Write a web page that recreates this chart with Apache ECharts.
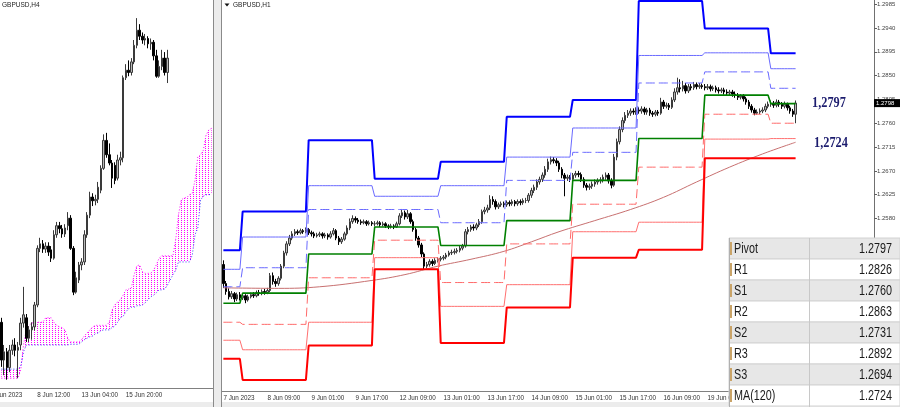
<!DOCTYPE html>
<html><head><meta charset="utf-8">
<script src="https://cdn.jsdelivr.net/npm/echarts@6/dist/echarts.min.js"></script>
<style>html,body{margin:0;padding:0;background:#fff;}#c{width:900px;height:407px;}</style>
</head><body><div id="c"></div>
<script>
// ---------- H1 chart data (GBPUSD,H1) ----------
const h1DayNames = ['7 Jun','8 Jun','9 Jun','12 Jun','13 Jun','14 Jun','15 Jun','16 Jun','19 Jun','20 Jun','21 Jun'];
// [open, close, low, high] per hour from 7 Jun 17:00
const h1Ohlc = [
[1.2493,1.2457,1.2449,1.2501],[1.2457,1.2442,1.2436,1.2462],[1.2442,1.2432,1.2427,1.2448],[1.2432,1.2438,1.2428,1.2443],
[1.2438,1.2428,1.2422,1.2441],[1.2428,1.2436,1.2424,1.2440],[1.2436,1.2430,1.2425,1.2441],[1.2430,1.2434,1.2426,1.2439],
[1.2434,1.2426,1.2420,1.2437],[1.2426,1.2432,1.2423,1.2436],[1.2432,1.2436,1.2429,1.2440],[1.2436,1.2434,1.2430,1.2441],
[1.2434,1.2440,1.2431,1.2444],[1.2440,1.2438,1.2434,1.2445],[1.2438,1.2442,1.2435,1.2446],[1.2442,1.2440,1.2436,1.2447],
[1.2440,1.2444,1.2437,1.2449],[1.2444,1.2472,1.2441,1.2477],[1.2472,1.2461,1.2455,1.2478],[1.2461,1.2457,1.2451,1.2466],
[1.2457,1.2467,1.2453,1.2471],[1.2467,1.2490,1.2463,1.2494],[1.2490,1.2515,1.2486,1.2519],[1.2515,1.2532,1.2510,1.2537],
[1.2532,1.2543,1.2528,1.2549],[1.2543,1.2551,1.2539,1.2556],[1.2551,1.2555,1.2547,1.2560],[1.2555,1.2553,1.2549,1.2559],
[1.2553,1.2557,1.2550,1.2561],[1.2557,1.2555,1.2551,1.2560],[1.2555,1.2559,1.2552,1.2563],[1.2559,1.2553,1.2549,1.2562],
[1.2553,1.2551,1.2546,1.2557],[1.2551,1.2547,1.2543,1.2555],[1.2547,1.2549,1.2544,1.2553],[1.2549,1.2551,1.2545,1.2555],
[1.2551,1.2547,1.2542,1.2554],[1.2547,1.2549,1.2543,1.2553],[1.2549,1.2545,1.2540,1.2552],[1.2545,1.2551,1.2542,1.2556],
[1.2551,1.2557,1.2548,1.2562],[1.2557,1.2543,1.2539,1.2560],[1.2543,1.2536,1.2530,1.2547],[1.2536,1.2541,1.2532,1.2545],
[1.2541,1.2551,1.2538,1.2555],[1.2551,1.2562,1.2548,1.2567],[1.2562,1.2574,1.2558,1.2580],[1.2574,1.2580,1.2570,1.2586],
[1.2580,1.2577,1.2572,1.2584],[1.2577,1.2574,1.2570,1.2581],[1.2574,1.2572,1.2568,1.2578],[1.2572,1.2574,1.2569,1.2578],
[1.2574,1.2570,1.2566,1.2577],[1.2570,1.2572,1.2567,1.2576],[1.2572,1.2570,1.2566,1.2575],[1.2570,1.2570,1.2565,1.2575],
[1.2570,1.2572,1.2567,1.2576],[1.2572,1.2568,1.2564,1.2575],[1.2568,1.2570,1.2565,1.2574],[1.2570,1.2566,1.2562,1.2573],
[1.2566,1.2564,1.2560,1.2569],[1.2564,1.2566,1.2561,1.2570],[1.2566,1.2564,1.2560,1.2569],[1.2564,1.2570,1.2562,1.2574],
[1.2570,1.2585,1.2567,1.2590],[1.2585,1.2591,1.2581,1.2598],[1.2591,1.2583,1.2578,1.2595],[1.2583,1.2589,1.2579,1.2596],
[1.2589,1.2574,1.2570,1.2592],[1.2574,1.2559,1.2555,1.2578],[1.2559,1.2543,1.2538,1.2563],[1.2543,1.2530,1.2525,1.2547],
[1.2530,1.2513,1.2507,1.2534],[1.2513,1.2490,1.2484,1.2516],[1.2490,1.2493,1.2486,1.2498],[1.2493,1.2499,1.2489,1.2503],
[1.2499,1.2495,1.2490,1.2503],[1.2495,1.2501,1.2492,1.2505],[1.2501,1.2503,1.2497,1.2507],[1.2503,1.2505,1.2499,1.2509],
[1.2505,1.2507,1.2501,1.2511],[1.2507,1.2511,1.2503,1.2515],[1.2511,1.2515,1.2508,1.2519],[1.2515,1.2516,1.2511,1.2521],
[1.2516,1.2518,1.2512,1.2523],[1.2518,1.2520,1.2514,1.2524],[1.2520,1.2524,1.2516,1.2528],[1.2524,1.2528,1.2520,1.2532],
[1.2528,1.2555,1.2525,1.2560],[1.2555,1.2559,1.2550,1.2564],[1.2559,1.2564,1.2555,1.2568],[1.2564,1.2562,1.2557,1.2569],
[1.2562,1.2568,1.2558,1.2572],[1.2568,1.2574,1.2564,1.2579],[1.2574,1.2593,1.2570,1.2597],[1.2593,1.2596,1.2588,1.2602],
[1.2596,1.2600,1.2591,1.2606],[1.2600,1.2616,1.2596,1.2624],[1.2616,1.2612,1.2606,1.2622],[1.2612,1.2602,1.2597,1.2616],
[1.2602,1.2606,1.2598,1.2610],[1.2606,1.2608,1.2602,1.2612],[1.2608,1.2606,1.2601,1.2612],[1.2606,1.2610,1.2602,1.2614],
[1.2610,1.2608,1.2603,1.2614],[1.2608,1.2612,1.2604,1.2616],[1.2612,1.2608,1.2603,1.2615],[1.2608,1.2612,1.2604,1.2616],
[1.2612,1.2610,1.2605,1.2616],[1.2610,1.2614,1.2606,1.2618],[1.2614,1.2614,1.2609,1.2619],[1.2614,1.2624,1.2610,1.2628],
[1.2624,1.2633,1.2619,1.2638],[1.2633,1.2639,1.2628,1.2644],[1.2639,1.2649,1.2634,1.2654],[1.2649,1.2654,1.2644,1.2659],
[1.2654,1.2662,1.2649,1.2667],[1.2662,1.2673,1.2657,1.2679],[1.2673,1.2687,1.2668,1.2693],[1.2687,1.2691,1.2682,1.2697],
[1.2691,1.2689,1.2684,1.2696],[1.2689,1.2685,1.2679,1.2694],[1.2685,1.2673,1.2668,1.2689],[1.2673,1.2662,1.2656,1.2677],
[1.2662,1.2656,1.2622,1.2666],[1.2656,1.2658,1.2651,1.2663],[1.2658,1.2654,1.2649,1.2662],[1.2654,1.2662,1.2650,1.2666],
[1.2662,1.2665,1.2657,1.2670],[1.2665,1.2663,1.2658,1.2670],[1.2663,1.2654,1.2649,1.2667],[1.2654,1.2643,1.2638,1.2658],
[1.2643,1.2639,1.2633,1.2647],[1.2639,1.2641,1.2634,1.2646],[1.2641,1.2645,1.2636,1.2650],[1.2645,1.2649,1.2640,1.2654],
[1.2649,1.2651,1.2644,1.2656],[1.2651,1.2653,1.2646,1.2658],[1.2653,1.2658,1.2648,1.2663],[1.2658,1.2662,1.2653,1.2667],
[1.2662,1.2651,1.2646,1.2666],[1.2651,1.2643,1.2637,1.2656],[1.2643,1.2696,1.2640,1.2702],[1.2696,1.2725,1.2690,1.2731],
[1.2725,1.2748,1.2720,1.2754],[1.2748,1.2765,1.2743,1.2771],[1.2765,1.2775,1.2760,1.2781],[1.2775,1.2779,1.2770,1.2785],
[1.2779,1.2783,1.2774,1.2788],[1.2783,1.2781,1.2776,1.2788],[1.2781,1.2785,1.2776,1.2790],[1.2785,1.2783,1.2778,1.2790],
[1.2783,1.2787,1.2778,1.2792],[1.2787,1.2781,1.2776,1.2791],[1.2781,1.2785,1.2776,1.2789],[1.2785,1.2779,1.2774,1.2789],
[1.2779,1.2777,1.2772,1.2783],[1.2777,1.2781,1.2773,1.2785],[1.2781,1.2779,1.2774,1.2785],[1.2779,1.2800,1.2776,1.2808],
[1.2800,1.2792,1.2787,1.2804],[1.2792,1.2794,1.2788,1.2799],[1.2794,1.2790,1.2785,1.2798],[1.2790,1.2804,1.2787,1.2809],
[1.2804,1.2819,1.2800,1.2826],[1.2819,1.2827,1.2814,1.2846],[1.2827,1.2825,1.2818,1.2843],[1.2825,1.2831,1.2820,1.2840],
[1.2831,1.2821,1.2816,1.2836],[1.2821,1.2829,1.2817,1.2834],[1.2829,1.2827,1.2822,1.2834],[1.2827,1.2833,1.2823,1.2838],
[1.2833,1.2829,1.2824,1.2837],[1.2829,1.2831,1.2825,1.2836],[1.2831,1.2829,1.2825,1.2835],[1.2829,1.2827,1.2822,1.2834],
[1.2827,1.2829,1.2823,1.2834],[1.2829,1.2825,1.2820,1.2833],[1.2825,1.2827,1.2821,1.2831],[1.2827,1.2823,1.2818,1.2831],
[1.2823,1.2821,1.2816,1.2828],[1.2821,1.2823,1.2817,1.2827],[1.2823,1.2819,1.2814,1.2827],[1.2819,1.2817,1.2812,1.2824],
[1.2817,1.2819,1.2813,1.2823],[1.2819,1.2815,1.2810,1.2823],[1.2815,1.2813,1.2808,1.2820],[1.2813,1.2809,1.2804,1.2817],
[1.2809,1.2811,1.2805,1.2815],[1.2811,1.2806,1.2801,1.2815],[1.2806,1.2800,1.2795,1.2810],[1.2800,1.2792,1.2787,1.2804],
[1.2792,1.2785,1.2780,1.2796],[1.2785,1.2779,1.2775,1.2789],[1.2779,1.2781,1.2776,1.2786],[1.2781,1.2783,1.2777,1.2788],
[1.2783,1.2785,1.2779,1.2790],[1.2785,1.2792,1.2781,1.2797],[1.2792,1.2796,1.2788,1.2801],[1.2796,1.2798,1.2791,1.2803],
[1.2798,1.2794,1.2789,1.2802],[1.2794,1.2800,1.2790,1.2805],[1.2800,1.2796,1.2791,1.2804],[1.2796,1.2792,1.2787,1.2800],
[1.2792,1.2796,1.2788,1.2801],[1.2796,1.2789,1.2784,1.2799],[1.2789,1.2783,1.2778,1.2793],[1.2783,1.2777,1.2772,1.2787],
[1.2777,1.2798,1.2760,1.2803]
];
// daily pivot levels (7,8,9,12,13,14,15,16,19,20 Jun)
const pivR3 = [1.2520,1.2593,1.2728,1.2655,1.2687,1.2772,1.2804,1.2991,1.2939,1.2892];
const pivR2 = [1.2484,1.2545,1.2642,1.2622,1.2642,1.2696,1.2751,1.2888,1.2893,1.2863];
const pivR1 = [1.2451,1.2487,1.2597,1.2597,1.2572,1.2652,1.2705,1.2836,1.2857,1.2826];
const pivP  = [1.2420,1.2439,1.2513,1.2564,1.2529,1.2576,1.2652,1.2731,1.2813,1.2797];
const pivS1 = [1.2384,1.2380,1.2468,1.2539,1.2459,1.2532,1.2607,1.2677,1.2777,1.2760];
const pivS2 = [1.2350,1.2332,1.2384,1.2506,1.2414,1.2455,1.2555,1.2573,1.2730,1.2731];
const pivS3 = [1.2315,1.2275,1.2340,1.2484,1.2345,1.2412,1.2506,1.2521,1.2694,1.2694];
// MA(120) readings at bar indices
const maIdx = [0,20,35,54,66,78,90,102,112,122,135,148,160,172,184,196,208];
const maVal = [1.2449,1.2448,1.2451,1.2463,1.2474,1.2490,1.2503,1.2518,1.2536,1.2555,1.2576,1.2597,1.2620,1.2649,1.2677,1.2702,1.2724];
// price scale tick labels
const h1Ticks = [1.2985,1.2940,1.2895,1.2850,1.2805,1.2760,1.2715,1.2670,1.2625,1.2580,1.2535,1.2490,1.2445,1.2400,1.2355,1.2310,1.2265];
const lastPrice = 1.2798;

// ---------- H4 chart data (GBPUSD,H4) ----------
const h4DayNames = ['6 Jun','7 Jun','8 Jun','9 Jun','12 Jun','13 Jun','14 Jun','15 Jun','16 Jun','19 Jun','20 Jun','21 Jun','22 Jun','23 Jun'];
const h4Ohlc = [
[1.2445,1.2395,1.2386,1.2451],[1.2395,1.2406,1.2375,1.2415],[1.2406,1.2385,1.2369,1.2411],[1.2385,1.2408,1.2379,1.2415],
[1.2408,1.2415,1.2402,1.2422],[1.2415,1.2408,1.2400,1.2424],[1.2408,1.2412,1.2371,1.2419],[1.2415,1.2444,1.2408,1.2451],
[1.2444,1.2455,1.2438,1.2492],[1.2451,1.2424,1.2419,1.2456],[1.2424,1.2435,1.2419,1.2440],[1.2435,1.2439,1.2422,1.2445],
[1.2439,1.2468,1.2434,1.2472],
[1.2468,1.2543,1.2465,1.2547],[1.2543,1.2549,1.2538,1.2557],[1.2549,1.2542,1.2537,1.2554],[1.2542,1.2546,1.2537,1.2551],
[1.2546,1.2538,1.2533,1.2551],[1.2541,1.2530,1.2525,1.2546],[1.2530,1.2561,1.2528,1.2567],[1.2561,1.2573,1.2557,1.2578],
[1.2573,1.2569,1.2563,1.2578],[1.2569,1.2562,1.2557,1.2574],[1.2562,1.2570,1.2558,1.2575],[1.2573,1.2583,1.2567,1.2591],
[1.2583,1.2543,1.2541,1.2587],
[1.2543,1.2485,1.2481,1.2546],[1.2485,1.2504,1.2483,1.2512],[1.2501,1.2521,1.2497,1.2525],[1.2521,1.2525,1.2514,1.2530],
[1.2525,1.2561,1.2521,1.2567],[1.2561,1.2587,1.2557,1.2591],[1.2587,1.2611,1.2583,1.2618],[1.2611,1.2606,1.2599,1.2616],
[1.2606,1.2608,1.2600,1.2614],[1.2608,1.2624,1.2603,1.2631],[1.2620,1.2649,1.2616,1.2653],[1.2649,1.2686,1.2647,1.2694],
[1.2686,1.2667,1.2663,1.2696],[1.2667,1.2656,1.2653,1.2682],[1.2656,1.2636,1.2623,1.2660],[1.2653,1.2633,1.2628,1.2657],
[1.2636,1.2660,1.2633,1.2667],[1.2660,1.2663,1.2653,1.2671],
[1.2663,1.2769,1.2657,1.2772],[1.2769,1.2779,1.2766,1.2787],[1.2779,1.2776,1.2771,1.2792],[1.2776,1.2790,1.2772,1.2795],
[1.2790,1.2812,1.2787,1.2819],[1.2812,1.2832,1.2808,1.2848],[1.2832,1.2824,1.2819,1.2840],[1.2824,1.2819,1.2814,1.2829],
[1.2819,1.2821,1.2812,1.2827],[1.2821,1.2814,1.2808,1.2824],[1.2814,1.2816,1.2806,1.2821],[1.2816,1.2798,1.2792,1.2819],
[1.2798,1.2771,1.2769,1.2806],[1.2771,1.2784,1.2769,1.2792],[1.2784,1.2795,1.2779,1.2806],[1.2795,1.2776,1.2772,1.2803],
[1.2776,1.2795,1.2762,1.2806]
];
// Ichimoku cloud edges (shifted forward), one value per H4 slot
const kumoA = [1.2371,1.2371,1.2371,1.2371,1.2371,1.2371,1.2371,
 1.2382,1.2415,1.2435,1.2441,1.2444,
 1.2445,1.2445,1.2445,1.2445,
 1.2451,1.2451,1.2451,
 1.2445,1.2441,1.2439,1.2438,1.2435,1.2424,
 1.2419,1.2419,1.2419,1.2419,
 1.2422,1.2427,1.2431,1.2435,1.2439,
 1.2441,1.2441,1.2441,1.2441,1.2441,
 1.2445,1.2461,1.2468,1.2472,1.2475,1.2481,1.2488,1.2489,1.2491,
 1.2508,1.2520,1.2521,1.2512,
 1.2510,1.2510,1.2510,
 1.2514,1.2521,1.2530,
 1.2533,1.2533,1.2533,1.2533,1.2533,
 1.2554,1.2587,1.2607,1.2610,1.2610,1.2614,1.2616,1.2633,1.2664,1.2667,1.2673,1.2693,1.2700,1.2702];
const kumoB = [1.2383,1.2383,1.2383,1.2383,1.2383,1.2383,1.2383,
 1.2387,1.2406,
 1.2415,1.2415,1.2415,1.2415,1.2415,1.2415,1.2415,1.2415,1.2415,1.2415,1.2415,1.2415,1.2415,1.2415,1.2415,1.2415,
 1.2416,1.2416,1.2416,1.2416,
 1.2419,1.2422,1.2424,1.2426,1.2427,1.2430,1.2431,1.2434,
 1.2435,1.2435,1.2435,
 1.2438,1.2440,1.2445,1.2451,1.2453,1.2459,1.2463,
 1.2465,1.2465,1.2467,1.2467,1.2468,1.2471,1.2475,1.2479,1.2481,1.2484,
 1.2488,1.2488,1.2489,1.2494,1.2501,1.2508,1.2514,
 1.2525,1.2525,1.2525,1.2525,1.2525,
 1.2534,1.2561,1.2570,1.2607,1.2612,1.2614,1.2614,1.2615];

// ---------- Table ----------
const tableNames  = ['Pivot','R1','S1','R2','S2','R3','S3','MA(120)'];
const tableValues = ['1.2797','1.2826','1.2760','1.2863','1.2731','1.2892','1.2694','1.2724'];
const noteLabels = ['1,2797','1,2724'];

// ---------- build ----------
const H1_SLOTS = 237, H4_SLOTS = kumoA.length;
const h1Cats = [];
for (let i = 0; i < H1_SLOTS; i++) {
  const t = 17 + i, d = Math.floor(t / 24), h = t % 24;
  h1Cats.push(i === 0 ? '7 Jun 2023' : h1DayNames[d] + ' ' + String(h).padStart(2, '0') + ':00');
}
const h4Cats = [];
for (let j = 0; j < H4_SLOTS; j++) {
  const t = 2 + j, d = Math.floor(t / 6), h = (t % 6) * 4;
  h4Cats.push(h4DayNames[d] + ' ' + String(h).padStart(2, '0') + ':00');
}
const dayOf = i => Math.floor((17 + i) / 24);
const lvl = arr => h1Ohlc.map((_, i) => arr[dayOf(i)]);
const maData = maIdx.map((ix, k) => [ix, maVal[k]]);
const kumoLow = kumoA.map((a, k) => Math.min(a, kumoB[k]));
const kumoBand = kumoA.map((a, k) => Math.abs(a - kumoB[k]));

const pc = document.createElement('canvas'); pc.width = 3; pc.height = 2;
const pctx = pc.getContext('2d'); pctx.fillStyle = '#ff00ff'; pctx.fillRect(1, 0, 1, 1);

const F = 'Liberation Sans, Arial, sans-serif';
const lineS = (name, data, color, width, type, z) => ({
  type: 'line', name, data, xAxisIndex: 1, yAxisIndex: 1, symbol: 'none', silent: true, z: z || 3,
  lineStyle: { color, width, type: type || 'solid' }
});

const chart = echarts.init(document.getElementById('c'), null, { renderer: 'canvas' });
const option = {
  animation: false,
  backgroundColor: '#ffffff',
  grid: [
    { left: 0, top: 0, width: 213, height: 388 },
    { left: 222, top: 0, width: 652, height: 391 }
  ],
  xAxis: [
    { type: 'category', gridIndex: 0, data: h4Cats, boundaryGap: true,
      axisLine: { lineStyle: { color: '#808080', width: 1 } },
      axisTick: { interval: (j) => j >= 13 && (j - 13) % 16 === 0 && j <= 60, length: 3, lineStyle: { color: '#606060' } },
      axisLabel: { interval: (j) => j >= 13 && (j - 13) % 16 === 0 && j <= 60, align: 'left', fontSize: 6.3, color: '#333', margin: 4, fontFamily: F } },
    { type: 'category', gridIndex: 1, data: h1Cats, boundaryGap: true,
      axisLine: { lineStyle: { color: '#808080', width: 1 } },
      axisTick: { interval: (i) => i % 16 === 0 && i <= 208, length: 3, lineStyle: { color: '#606060' } },
      axisLabel: { interval: (i) => i % 16 === 0 && i <= 208, align: 'left', fontSize: 6.3, color: '#333', margin: 4, fontFamily: F } }
  ],
  yAxis: [
    { type: 'value', gridIndex: 0, min: 1.2358, max: 1.2872, show: false, splitLine: { show: false } },
    { type: 'value', gridIndex: 1, position: 'right', min: 1.22541, max: 1.29928, scale: true,
      splitLine: { show: false },
      axisLine: { show: true, lineStyle: { color: '#707070' } },
      axisTick: { show: true, length: 3, customValues: h1Ticks, lineStyle: { color: '#606060' } },
      axisLabel: { customValues: h1Ticks, formatter: v => v.toFixed(4), fontSize: 6, color: '#444', margin: 3, fontFamily: F } }
  ],
  series: [
    // H4 cloud
    { type: 'line', xAxisIndex: 0, yAxisIndex: 0, data: kumoLow, stack: 'kumo', symbol: 'none', lineStyle: { opacity: 0 }, silent: true, z: 1 },
    { type: 'line', xAxisIndex: 0, yAxisIndex: 0, data: kumoBand, stack: 'kumo', symbol: 'none', lineStyle: { opacity: 0 },
      areaStyle: { color: { image: pc, repeat: 'repeat' }, opacity: 1 }, silent: true, z: 1 },
    { type: 'line', xAxisIndex: 0, yAxisIndex: 0, data: kumoA, symbol: 'none', lineStyle: { color: '#ff00ff', width: 1, type: [1, 2] }, silent: true, z: 2 },
    { type: 'line', xAxisIndex: 0, yAxisIndex: 0, data: kumoB, symbol: 'none', lineStyle: { color: '#3333ff', width: 1, type: [1, 2] }, silent: true, z: 2 },
    { type: 'candlestick', xAxisIndex: 0, yAxisIndex: 0, data: h4Ohlc, barWidth: 2, silent: true, z: 3,
      itemStyle: { color: '#b8b8b8', color0: '#000000', borderColor: '#3a3a3a', borderColor0: '#000000', borderWidth: 1 } },
    // H1
    { type: 'candlestick', xAxisIndex: 1, yAxisIndex: 1, data: h1Ohlc, barWidth: 2, silent: true, z: 2,
      itemStyle: { color: '#b8b8b8', color0: '#000000', borderColor: '#3a3a3a', borderColor0: '#000000', borderWidth: 1 } },
    { type: 'line', xAxisIndex: 1, yAxisIndex: 1, data: maData, symbol: 'none', smooth: 0.4, silent: true, z: 3,
      lineStyle: { color: '#c87070', width: 1 } },
    lineS('R3', lvl(pivR3), '#0000ff', 2),
    lineS('R2', lvl(pivR2), '#6a6aff', 1),
    lineS('R1', lvl(pivR1), '#6a6aff', 1, [9, 4]),
    lineS('Pivot', lvl(pivP), '#008000', 1.6),
    lineS('S1', lvl(pivS1), '#ff6a6a', 1, [9, 4]),
    lineS('S2', lvl(pivS2), '#ff7070', 1),
    lineS('S3', lvl(pivS3), '#ff0000', 2)
  ]
};
chart.setOption(option);

// ---------- overlays ----------
const g = [];
// bottom window strip
g.push({ type: 'rect', shape: { x: 0, y: 402, width: 900, height: 5 }, style: { fill: '#ececec' }, z: 40 });
// panel separator
g.push({ type: 'rect', shape: { x: 213, y: 0, width: 9, height: 407 }, style: { fill: '#ececec' }, z: 50 });
g.push({ type: 'line', shape: { x1: 213.5, y1: 0, x2: 213.5, y2: 407 }, style: { stroke: '#8a8a8a', lineWidth: 1 }, z: 51 });
g.push({ type: 'line', shape: { x1: 221.5, y1: 0, x2: 221.5, y2: 407 }, style: { stroke: '#8a8a8a', lineWidth: 1 }, z: 51 });
// titles
g.push({ type: 'text', x: 2, y: 2, style: { text: 'GBPUSD,H4', font: '6.5px ' + F, fill: '#222' }, z: 60 });
g.push({ type: 'polygon', shape: { points: [[224.5, 3.5], [229.5, 3.5], [227, 6.5]] }, style: { fill: '#111' }, z: 60 });
g.push({ type: 'text', x: 233, y: 2, style: { text: 'GBPUSD,H1', font: '6.5px ' + F, fill: '#222' }, z: 60 });
// partial first label of the H4 time scale
g.push({ type: 'text', x: -9, y: 392, style: { text: '6 Jun 2023', font: '6.3px ' + F, fill: '#333' }, z: 60 });
// annotations
g.push({ type: 'text', x: 812, y: 103, scaleX: 0.82, style: { text: noteLabels[0], font: 'bold 15px "Liberation Serif", serif', fill: '#1c1c6e', verticalAlign: 'middle' }, z: 60 });
g.push({ type: 'text', x: 814, y: 143, scaleX: 0.82, style: { text: noteLabels[1], font: 'bold 15px "Liberation Serif", serif', fill: '#1c1c6e', verticalAlign: 'middle' }, z: 60 });
// last price marker on the price scale
const yLast = chart.convertToPixel({ yAxisIndex: 1 }, lastPrice);
g.push({ type: 'rect', shape: { x: 874, y: yLast - 4, width: 26, height: 8 }, style: { fill: '#000' }, z: 60 });
g.push({ type: 'text', x: 876, y: yLast, style: { text: lastPrice.toFixed(4), font: '6px ' + F, fill: '#fff', verticalAlign: 'middle' }, z: 61 });
// table
const tX = 729, tY = 238, rH = 21, tW = 171, cX = 809;
tableNames.forEach((nm, i) => {
  const y = tY + i * rH;
  g.push({ type: 'rect', shape: { x: tX, y, width: tW, height: rH }, style: { fill: i % 2 === 0 ? '#e7e7e7' : '#ffffff', stroke: '#d2d2d2', lineWidth: 1 }, z: 70 });
  g.push({ type: 'rect', shape: { x: tX + 1, y: y + 4, width: 2, height: rH - 8 }, style: { fill: '#caa468' }, z: 71 });
  g.push({ type: 'text', x: tX + 5, y: y + rH / 2 + 0.5, scaleX: 0.72, style: { text: nm, font: '15px ' + F, fill: '#1a1a1a', verticalAlign: 'middle' }, z: 72 });
  g.push({ type: 'text', x: 892, y: y + rH / 2 + 0.5, scaleX: 0.72, style: { text: tableValues[i], font: '15px ' + F, fill: '#1a1a1a', align: 'right', verticalAlign: 'middle' }, z: 72 });
});
g.push({ type: 'line', shape: { x1: cX + 0.5, y1: tY, x2: cX + 0.5, y2: 407 }, style: { stroke: '#c8c8c8', lineWidth: 1 }, z: 73 });
g.push({ type: 'line', shape: { x1: tX + 0.5, y1: tY, x2: tX + 0.5, y2: 407 }, style: { stroke: '#b0b0b0', lineWidth: 1 }, z: 73 });
chart.setOption({ graphic: { elements: g } });
</script></body></html>
